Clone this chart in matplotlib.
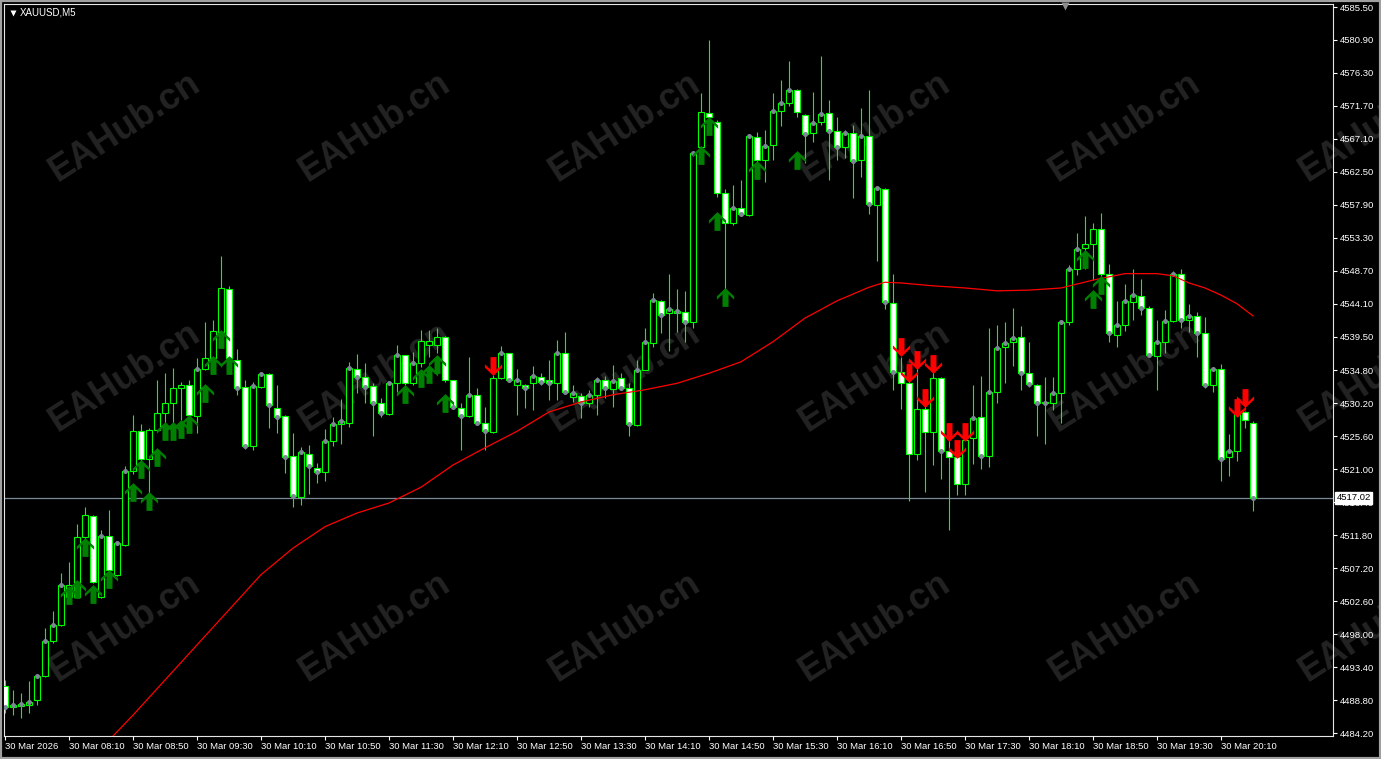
import numpy as np
import matplotlib
matplotlib.use("Agg")
import matplotlib.pyplot as plt
from matplotlib.path import Path
from matplotlib.lines import Line2D
from matplotlib.patches import Rectangle

W, H = 1381, 759

# ---------------------------------------------------------------
# XAUUSD M5 bars, 30 Mar 07:30 .. 20:30 (157 bars)
# ---------------------------------------------------------------
opens = [
    4490.7, 4487.9, 4488.0, 4488.1, 4488.8, 4492.1, 4497.0, 4499.3, 4503.2, 4503.2,
    4511.5, 4514.5, 4503.2, 4511.7, 4506.3, 4510.5, 4520.7, 4526.4, 4522.4, 4526.5,
    4528.8, 4530.3, 4532.4, 4532.8, 4528.4, 4535.0, 4536.5, 4540.2, 4546.1, 4536.3,
    4532.5, 4524.3, 4532.5, 4534.3, 4529.6, 4528.4, 4522.8, 4517.2, 4523.2, 4521.2,
    4520.6, 4525.0, 4527.3, 4527.5, 4535.0, 4533.9, 4532.6, 4530.2, 4528.7, 4533.0,
    4537.0, 4533.0, 4535.8, 4538.3, 4538.3, 4539.4, 4533.5, 4529.6, 4528.5, 4531.3,
    4527.5, 4526.2, 4533.8, 4537.2, 4532.8, 4532.8, 4533.1, 4533.9, 4533.4, 4533.0,
    4537.2, 4531.1, 4531.2, 4530.2, 4531.4, 4533.5, 4532.2, 4533.7, 4532.4, 4527.2,
    4534.9, 4538.6, 4544.5, 4542.8, 4542.8, 4543.0, 4541.5, 4566.0, 4570.7, 4569.5,
    4559.6, 4555.3, 4557.4, 4556.5, 4567.3, 4564.1, 4566.3, 4571.0, 4572.1, 4573.9,
    4570.5, 4567.9, 4569.4, 4570.7, 4568.2, 4565.9, 4567.9, 4564.2, 4567.5, 4557.9,
    4560.1, 4544.2, 4534.6, 4533.0, 4523.1, 4529.4, 4526.2, 4533.7, 4523.5, 4522.7,
    4519.0, 4525.3, 4528.3, 4522.9, 4531.8, 4538.0, 4538.7, 4539.4, 4534.4, 4532.8,
    4530.4, 4530.2, 4531.6, 4541.5, 4548.9, 4551.9, 4552.5, 4554.5, 4548.3, 4539.8,
    4541.1, 4544.4, 4545.2, 4543.5, 4536.8, 4538.8, 4541.7, 4548.3, 4541.8, 4542.4,
    4540.0, 4532.8, 4535.0, 4522.7, 4523.6, 4529.0, 4527.5,
]
highs = [
    4491.6, 4490.2, 4489.8, 4491.5, 4492.3, 4498.8, 4501.2, 4506.5, 4508.1, 4513.4,
    4515.8, 4514.6, 4512.6, 4515.3, 4510.9, 4521.5, 4528.6, 4527.3, 4526.7, 4533.5,
    4534.4, 4535.2, 4533.2, 4533.5, 4536.5, 4541.6, 4541.9, 4550.7, 4546.6, 4537.8,
    4533.5, 4533.2, 4534.6, 4534.5, 4532.8, 4528.6, 4526.0, 4524.1, 4524.4, 4521.9,
    4526.6, 4528.3, 4530.8, 4536.0, 4537.1, 4535.8, 4533.0, 4530.9, 4533.0, 4538.3,
    4537.0, 4537.4, 4540.5, 4540.5, 4540.7, 4539.6, 4533.5, 4530.2, 4536.6, 4532.3,
    4529.7, 4534.1, 4538.2, 4537.2, 4535.0, 4532.9, 4535.4, 4534.4, 4536.3, 4539.0,
    4540.1, 4532.8, 4531.6, 4532.0, 4533.9, 4534.0, 4535.5, 4534.4, 4533.0, 4536.3,
    4540.7, 4545.6, 4544.6, 4548.3, 4546.1, 4545.9, 4565.3, 4573.5, 4580.9, 4569.8,
    4560.1, 4560.7, 4561.4, 4567.5, 4568.1, 4568.3, 4573.5, 4575.3, 4578.0, 4574.1,
    4570.6, 4573.7, 4578.7, 4572.5, 4570.1, 4568.4, 4569.0, 4571.4, 4573.9, 4560.4,
    4560.3, 4548.3, 4536.7, 4534.9, 4535.1, 4530.7, 4536.0, 4533.9, 4525.1, 4523.0,
    4525.6, 4532.8, 4534.0, 4540.7, 4541.1, 4541.6, 4543.5, 4541.0, 4538.7, 4532.9,
    4533.9, 4533.9, 4541.9, 4549.5, 4554.0, 4556.3, 4555.3, 4556.8, 4549.6, 4544.5,
    4546.9, 4548.9, 4547.6, 4543.8, 4541.9, 4543.2, 4548.7, 4548.9, 4544.1, 4543.0,
    4542.2, 4535.3, 4535.7, 4525.9, 4530.1, 4529.2, 4527.7,
]
lows = [
    4487.0, 4486.7, 4486.3, 4487.0, 4488.1, 4492.0, 4496.8, 4499.1, 4502.5, 4503.0,
    4511.1, 4505.1, 4503.0, 4505.6, 4506.1, 4510.3, 4520.4, 4522.2, 4516.9, 4526.3,
    4527.4, 4527.4, 4527.9, 4528.4, 4526.1, 4534.9, 4536.3, 4538.0, 4536.3, 4531.4,
    4523.8, 4523.7, 4532.4, 4526.8, 4526.0, 4520.5, 4515.8, 4516.0, 4517.6, 4519.1,
    4519.3, 4524.3, 4524.6, 4526.9, 4531.6, 4530.2, 4525.6, 4528.3, 4528.6, 4531.8,
    4532.8, 4532.8, 4535.3, 4536.7, 4537.2, 4533.2, 4529.5, 4523.7, 4528.3, 4527.2,
    4523.7, 4526.0, 4533.6, 4533.2, 4528.6, 4529.6, 4529.3, 4532.8, 4530.6, 4530.6,
    4531.6, 4530.4, 4528.1, 4529.7, 4528.6, 4531.0, 4529.7, 4532.0, 4525.6, 4527.0,
    4534.8, 4538.0, 4540.0, 4537.5, 4540.2, 4538.8, 4540.7, 4565.8, 4570.0, 4559.0,
    4546.2, 4555.1, 4556.3, 4556.3, 4563.9, 4561.1, 4564.1, 4568.9, 4571.7, 4570.2,
    4563.7, 4566.7, 4569.0, 4561.4, 4564.2, 4564.4, 4558.9, 4561.8, 4556.6, 4550.0,
    4543.3, 4532.0, 4529.4, 4516.6, 4522.3, 4517.9, 4521.6, 4519.7, 4512.5, 4517.4,
    4517.4, 4521.8, 4521.0, 4521.3, 4530.2, 4533.1, 4535.4, 4532.1, 4532.5, 4525.6,
    4524.6, 4529.3, 4527.5, 4541.2, 4548.1, 4549.0, 4547.4, 4548.0, 4538.7, 4538.0,
    4540.3, 4541.8, 4542.5, 4536.7, 4532.1, 4537.2, 4541.6, 4540.7, 4540.1, 4536.6,
    4532.3, 4531.8, 4519.3, 4520.1, 4522.2, 4526.7, 4515.2,
]
closes = [
    4487.9, 4488.1, 4488.3, 4488.5, 4492.1, 4497.0, 4499.3, 4504.9, 4504.9, 4511.5,
    4514.6, 4505.3, 4511.7, 4507.0, 4510.7, 4520.7, 4526.4, 4522.4, 4526.5, 4528.8,
    4530.3, 4532.3, 4532.8, 4528.6, 4535.0, 4536.5, 4540.3, 4546.3, 4536.5, 4532.3,
    4524.2, 4532.6, 4534.3, 4530.0, 4528.3, 4522.7, 4517.3, 4523.4, 4521.4, 4520.6,
    4525.0, 4527.3, 4527.8, 4535.1, 4533.9, 4532.5, 4530.2, 4528.8, 4533.0, 4537.0,
    4533.0, 4535.9, 4538.9, 4538.9, 4539.4, 4533.5, 4529.7, 4528.5, 4531.3, 4527.5,
    4526.3, 4533.8, 4537.2, 4533.5, 4533.4, 4532.3, 4534.0, 4533.2, 4533.0, 4537.2,
    4531.8, 4531.6, 4530.2, 4531.3, 4533.5, 4532.3, 4533.3, 4532.4, 4527.3, 4534.9,
    4538.8, 4544.6, 4542.5, 4543.3, 4543.1, 4541.5, 4565.1, 4570.8, 4570.1, 4559.5,
    4555.3, 4557.5, 4556.6, 4567.5, 4564.1, 4566.1, 4571.0, 4572.1, 4573.9, 4570.8,
    4567.8, 4569.3, 4570.6, 4568.2, 4565.9, 4567.9, 4564.0, 4567.5, 4558.0, 4560.2,
    4544.4, 4534.6, 4533.0, 4523.1, 4529.4, 4526.2, 4533.8, 4523.5, 4522.7, 4519.0,
    4525.1, 4528.1, 4522.9, 4531.8, 4537.9, 4538.6, 4539.3, 4534.4, 4532.9, 4530.3,
    4530.2, 4531.7, 4541.6, 4548.9, 4551.8, 4552.4, 4554.5, 4548.2, 4540.0, 4541.1,
    4544.5, 4545.3, 4543.5, 4536.9, 4538.8, 4541.7, 4548.3, 4541.8, 4542.4, 4540.0,
    4532.8, 4535.0, 4522.5, 4523.6, 4528.8, 4527.9, 4517.02,
]

# moving average (read at every few bars)
ma_idx = [13, 16, 20, 24, 28, 32, 36, 40, 44, 48, 52, 56, 60, 64, 68, 72, 76, 80,
          84, 88, 92, 96, 100, 104, 108, 110, 112, 116, 120, 124, 128, 132, 136,
          140, 144, 146, 148, 150, 152, 154, 156]
ma_val = [4483.2, 4486.7, 4491.6, 4496.5, 4501.4, 4506.3, 4510.0, 4513.0, 4514.9,
          4516.3, 4518.5, 4521.6, 4524.0, 4526.3, 4529.0, 4530.4, 4531.4, 4532.1,
          4533.0, 4534.4, 4536.0, 4538.8, 4542.1, 4544.5, 4546.4, 4547.1, 4547.0,
          4546.6, 4546.3, 4545.9, 4546.0, 4546.3, 4547.4, 4548.3, 4548.3, 4548.0,
          4547.0, 4546.3, 4545.3, 4544.1, 4542.4]

# signal arrows (bar index, arrow centre price)
buy_idx = [8, 9, 10, 11, 13, 16, 17, 18, 19, 20, 21, 22, 23, 25, 26, 27, 28,
           50, 52, 53, 54, 55, 87, 88, 89, 90, 94, 99, 135, 136, 137]
buy_val = [4503.4, 4504.3, 4510.1, 4503.6, 4505.7, 4517.8, 4521.0, 4516.6, 4522.7,
           4526.4, 4526.4, 4526.6, 4527.3, 4531.7, 4535.5, 4539.2, 4535.5,
           4531.5, 4533.8, 4534.3, 4535.7, 4530.3, 4564.8, 4568.9, 4555.7, 4545.0,
           4562.7, 4564.1, 4550.3, 4544.8, 4546.7]
sell_idx = [61, 112, 113, 114, 115, 116, 118, 119, 120, 154, 155]
sell_val = [4535.4, 4538.0, 4534.5, 4536.2, 4530.9, 4535.7, 4526.2, 4523.9, 4526.2,
            4529.5, 4530.9]

price_ticks = [4585.50, 4580.90, 4576.30, 4571.70, 4567.10, 4562.50, 4557.90,
               4553.30, 4548.70, 4544.10, 4539.50, 4534.80, 4530.20, 4525.60,
               4521.00, 4516.40, 4511.80, 4507.20, 4502.60, 4498.00, 4493.40,
               4488.80, 4484.20]
time_idx = [0, 8, 16, 24, 32, 40, 48, 56, 64, 72, 80, 88, 96, 104, 112, 120,
            128, 136, 144, 152]
time_labels = ["30 Mar 2026", "30 Mar 08:10", "30 Mar 08:50", "30 Mar 09:30",
               "30 Mar 10:10", "30 Mar 10:50", "30 Mar 11:30", "30 Mar 12:10",
               "30 Mar 12:50", "30 Mar 13:30", "30 Mar 14:10", "30 Mar 14:50",
               "30 Mar 15:30", "30 Mar 16:10", "30 Mar 16:50", "30 Mar 17:30",
               "30 Mar 18:10", "30 Mar 18:50", "30 Mar 19:30", "30 Mar 20:10"]
last_price = 4517.02

FONT = "Liberation Sans"
FG = "white"
GREEN = "#00ff00"

o = np.array(opens); h = np.array(highs); l = np.array(lows); c = np.array(closes)
idx = np.arange(len(o))

fig = plt.figure(figsize=(W / 100, H / 100), dpi=100, facecolor="black")
ax = fig.add_axes([4 / W, (H - 736) / H, (1333 - 4) / W, (736 - 4) / H])
ax.set_facecolor("none")
ax.set_zorder(1)

# watermark tiles
for cy in [127, 377, 627]:
    for cx in [125, 375, 625, 875, 1125, 1375]:
        fig.text(cx / W, 1 - cy / H, "EAHub.cn", rotation=33, ha="center", va="center",
                 fontsize=26, fontweight="bold", family=FONT, color="#232323", zorder=0)

# candles
ax.vlines(idx, l, h, colors=GREEN, linewidth=0.8, zorder=2)
body_lo = np.minimum(o, c)
body_h = np.maximum(np.abs(c - o), 0.04)
fills = np.where(c < o, "white", "black")
ax.bar(idx, body_h, bottom=body_lo, width=0.64, color=fills, edgecolor=GREEN,
       linewidth=0.8, zorder=3)

# close dots on bars without a signal
sig = set(buy_idx) | set(sell_idx)
mask = np.array([i not in sig for i in idx])
ax.plot(idx[mask], c[mask], "o", ms=3.6, color="#7d8796", mec="none", zorder=4)

# moving average
ax.plot(ma_idx, ma_val, color="#ff0000", linewidth=0.9, zorder=5)

# current price line
ax.axhline(last_price, color="#7a8899", linewidth=0.9, zorder=1.5)

# arrows
up_verts = [(0, 0.5), (0.46, 0.06), (0.46, -0.12), (0.16, 0.17), (0.16, -0.5),
            (-0.16, -0.5), (-0.16, 0.17), (-0.46, -0.12), (-0.46, 0.06), (0, 0.5)]
up_path = Path(up_verts, closed=True)
dn_path = Path([(x, -y) for x, y in up_verts], closed=True)
ax.plot(buy_idx, buy_val, linestyle="none", marker=up_path, ms=13.5, color="#008000",
        mec="none", zorder=6)
ax.plot(sell_idx, sell_val, linestyle="none", marker=dn_path, ms=13.5, color="#ff0000",
        mec="none", zorder=6)

ax.set_xlim(-0.125, 166.0)
ax.set_ylim(4483.79, 4585.92)

for s in ax.spines.values():
    s.set_color("#e6e6e6")
    s.set_linewidth(0.8)

ax.yaxis.tick_right()
ax.set_yticks(price_ticks)
ax.set_yticklabels([f"{p:.2f}" for p in price_ticks])
ax.set_xticks(time_idx)
ax.set_xticklabels(time_labels)
ax.tick_params(axis="both", colors=FG, labelcolor=FG, length=3, width=0.8,
               labelsize=6.8, direction="out")
ax.tick_params(axis="y", pad=2)
ax.tick_params(axis="x", pad=1.5)
for lbl in ax.get_xticklabels() + ax.get_yticklabels():
    lbl.set_family(FONT)
for lbl in ax.get_xticklabels():
    lbl.set_ha("left")

# last price box
ax.annotate(f"{last_price:.2f}", xy=(1, last_price), xycoords=("axes fraction", "data"),
            xytext=(2.5, 0), textcoords="offset points", ha="left", va="center",
            fontsize=6.8, family=FONT, color="black", annotation_clip=False,
            bbox=dict(boxstyle="square,pad=0.15", fc="white", ec="white"), zorder=10)

# symbol caption
fig.text(20 / W, 1 - 12.5 / H, "XAUUSD,M5", ha="left", va="center", fontsize=7,
         family=FONT, color=FG, zorder=5)
fig.add_artist(Line2D([13 / W], [1 - 12.5 / H], marker="v", ms=4, color="white",
                      mec="none", transform=fig.transFigure))
fig.add_artist(Line2D([1065 / W], [1 - 6 / H], marker="v", ms=6, color="#8c8c8c",
                      mec="none", transform=fig.transFigure))

# window frame
fig.add_artist(Rectangle((0, 0), 1, 1, transform=fig.transFigure, fill=False,
                         ec="#a0a0a0", lw=3, zorder=20))

fig.savefig("out.png", dpi=100, facecolor="black")
